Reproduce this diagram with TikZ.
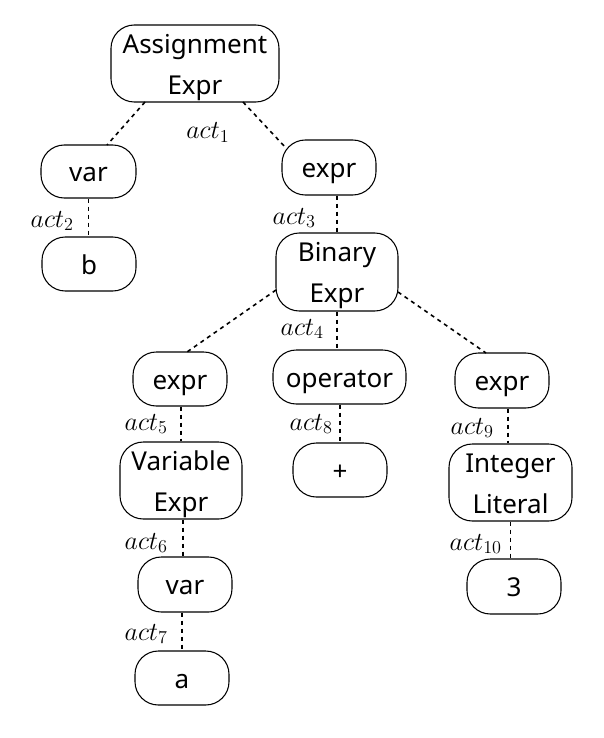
\RequirePackage{fix-cm}
\documentclass[tikz,border=0pt]{standalone}
\usepackage{fontspec}
\setmainfont{Noto Sans}
\usetikzlibrary{calc}
\newcommand\ns{\rule[-0.293em]{0pt}{1.362em}}
\begin{document}
\begin{tikzpicture}[x=0.75pt,y=-0.75pt,
  box/.style={draw, line width=0.8pt, rounded corners=17.5pt, minimum width=70.5pt,
    minimum height=40.5pt, inner sep=0pt, align=center,
    font=\fontsize{19.5}{30.75}\selectfont},
  edge/.style={dash pattern=on 3pt off 3pt, line width=1.2pt},
  lab/.style={inner sep=0pt, font=\fontsize{19.5}{23}\selectfont, anchor=base east}]
\useasboundingbox (0,0) rectangle (603,738);

% nodes
\node[box, minimum width=126pt, minimum height=57.75pt] (assign) at (195,63.5) {\ns Assignment\\\ns Expr};
\node[box, minimum width=71.25pt, minimum height=39.75pt] (var1) at (88.5,171.5) {\ns var};
\node[box, minimum height=41.25pt] (expr1) at (329,167.5) {\ns expr};
\node[box] (b) at (89,264) {\ns b};
\node[box, minimum width=91.5pt, minimum height=58.5pt] (binary) at (337,272) {\ns Binary\\\ns Expr};
\node[box] (expr2) at (180,379) {\ns expr};
\node[box, minimum width=99.75pt] (oper) at (339.5,377) {\ns operator};
\node[box, minimum height=41.25pt] (expr3) at (502,380.5) {\ns expr};
\node[box, minimum width=91.5pt, minimum height=57.75pt] (variable) at (181,480.5) {\ns Variable\\\ns Expr};
\node[box] (plus) at (340,470) {\ns +};
\node[box, minimum width=92.25pt, minimum height=57.75pt] (integer) at (510.5,482.5) {\ns Integer\\\ns Literal};
\node[box, minimum height=41.25pt] (var2) at (185,584.5) {\ns var};
\node[box, minimum height=41.25pt] (three) at (514,586.5) {\ns 3};
\node[box] (a) at (182,678) {\ns a};

% labels
\node[lab, anchor=base west] (l1) at (186,139) {$act_1$};
\node[lab] (l2) at (74,227) {$act_2$};
\node[lab] (l3) at (316,224) {$act_3$};
\node[lab] (l4) at (324,335) {$act_4$};
\node[lab] (l5) at (168,430) {$act_5$};
\node[lab] (l6) at (168,549) {$act_6$};
\node[lab] (l7) at (168,640) {$act_7$};
\node[lab] (l8) at (333,430) {$act_8$};
\node[lab] (l9) at (494,434) {$act_9$};
\node[lab] (l10) at (502,550) {$act_{10}$};

% edges
\draw[edge] ($(assign.center)+(-50,38.5)$) -- ($(var1.center)+(18.5,-26.5)$);
\draw[edge] ($(assign.center)+(48,38.5)$) -- ($(expr1.center)+(-43,-19.5)$);
\draw[edge] (var1.south) -- (var1.south |- b.north);
\draw[edge] (binary.north |- expr1.south) -- (binary.north);
\draw[edge] ($(binary.center)+(-61,18)$) -- ($(expr2.center)+(7,-27)$);
\draw[edge] (binary.south) -- (binary.south |- oper.north);
\draw[edge] ($(binary.center)+(61,20)$) -- ($(expr3.center)+(-16,-27.5)$);
\draw[edge] (variable.north |- expr2.south) -- (variable.north);
\draw[edge] ($(variable.south)+(2,0)$) -- ($(var2.north)+(-2,0)$);
\draw[edge] (a.north |- var2.south) -- (a.north);
\draw[edge] (plus.north |- oper.south) -- (plus.north);
\draw[edge] ($(expr3.south)+(6,0)$) -- ($(integer.north)+(-2.5,0)$);
\draw[edge] (integer.south) -- (integer.south |- three.north);
\end{tikzpicture}
\end{document}
